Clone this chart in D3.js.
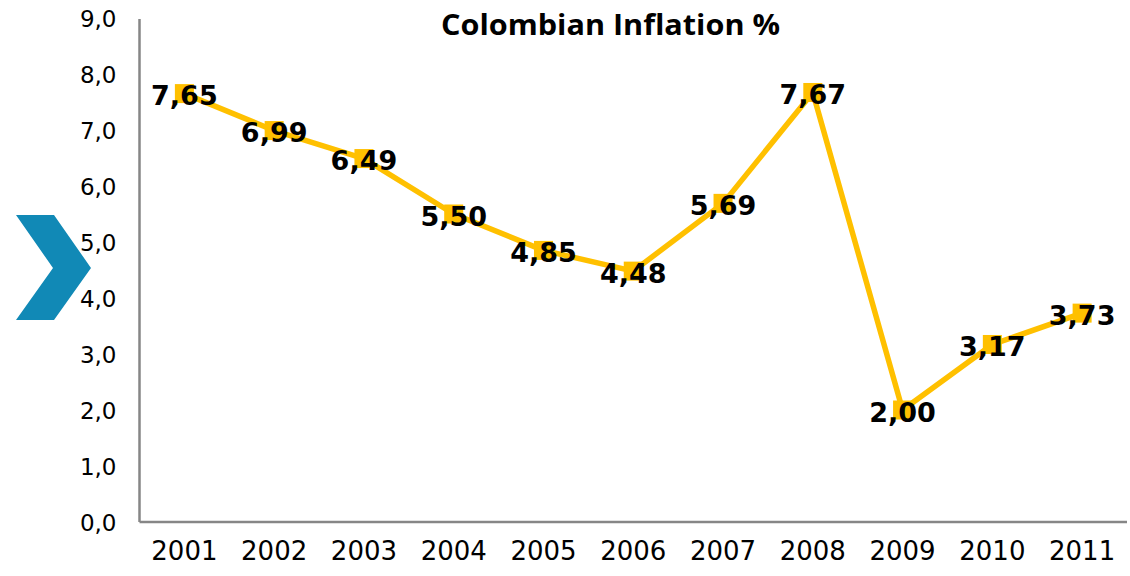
<!DOCTYPE html>
<html>
<head>
<meta charset="utf-8">
<script src="https://cdn.jsdelivr.net/npm/d3@7"></script>
<style>
html,body{margin:0;padding:0;background:#fff;}
svg{display:block;}
</style>
</head>
<body>
<svg id="chart" width="1130" height="576"></svg>
<script>
const years = ["2001","2002","2003","2004","2005","2006","2007","2008","2009","2010","2011"];
const inflation = [7.65, 6.99, 6.49, 5.50, 4.85, 4.48, 5.69, 7.67, 2.00, 3.17, 3.73];
const yTicks = [0,1,2,3,4,5,6,7,8,9];
const title = "Colombian Inflation %";

const svg = d3.select("#chart");
const margin = {left:139.5, right:1127, top:18, bottom:522};
const FONT = "'DejaVu Sans', Verdana, sans-serif";

const x = d3.scaleBand().domain(years).range([margin.left, margin.right]);
const y = d3.scaleLinear().domain([0,9]).range([margin.bottom, margin.top]);
const fmt = v => d3.format(".1f")(v).replace(".", ",");
const fmt2 = v => d3.format(".2f")(v).replace(".", ",");

// chevron decoration
svg.append("polygon")
  .attr("points", "16,215 54,215 91,268 54,320 16,320 53,268")
  .attr("fill", "#1189B6");

// y axis
const yAxis = d3.axisLeft(y).tickValues(yTicks).tickFormat(fmt).tickSize(0).tickPadding(23);
const gy = svg.append("g").attr("transform", `translate(${margin.left},0)`).call(yAxis);
gy.select(".domain").attr("stroke", "#868686").attr("stroke-width", 2.5)
  .attr("d", `M0,${margin.top+1}V${margin.bottom}`);
gy.selectAll("text").attr("font-family", FONT)
  .attr("font-size", 23).attr("fill", "#000").attr("dy", "0.36em");

// x axis
const xAxis = d3.axisBottom(x).tickSize(0).tickPadding(20);
const gx = svg.append("g").attr("transform", `translate(0,${margin.bottom})`).call(xAxis);
gx.select(".domain").attr("stroke", "#868686").attr("stroke-width", 2.5)
  .attr("d", `M${margin.left},0H${margin.right}`);
gx.selectAll("text").attr("font-family", FONT)
  .attr("font-size", 26).attr("fill", "#000");

// line
const cx = d => x(d) + x.bandwidth()/2;
const data = years.map((yr,i) => ({yr, v: inflation[i]}));
svg.append("path").datum(data)
  .attr("fill","none").attr("stroke","#FFC000").attr("stroke-width",5.5).attr("stroke-linejoin","round")
  .attr("d", d3.line().x(d => cx(d.yr)).y(d => y(d.v)));

// markers
svg.selectAll("rect.m").data(data).join("rect").attr("class","m")
  .attr("x", d => cx(d.yr) - 9.5).attr("y", d => y(d.v) - 9.5)
  .attr("width", 19).attr("height", 19).attr("fill", "#FFC000");

// labels
svg.selectAll("text.lbl").data(data).join("text").attr("class","lbl")
  .attr("x", d => cx(d.yr)).attr("y", d => y(d.v) + 1.5)
  .attr("dy", "0.38em").attr("text-anchor","middle")
  .attr("font-family", FONT).attr("font-weight","bold")
  .attr("font-size", 27).attr("fill","#000")
  .text(d => fmt2(d.v));

// title
svg.append("text").attr("x", 610.5).attr("y", 35).attr("text-anchor","middle")
  .attr("font-family", "'Open Sans', 'Liberation Sans', sans-serif").attr("font-weight","bold")
  .attr("font-size", 28).attr("fill","#000")
  .attr("textLength", 339).attr("lengthAdjust", "spacingAndGlyphs")
  .text(title);
</script>
</body>
</html>
